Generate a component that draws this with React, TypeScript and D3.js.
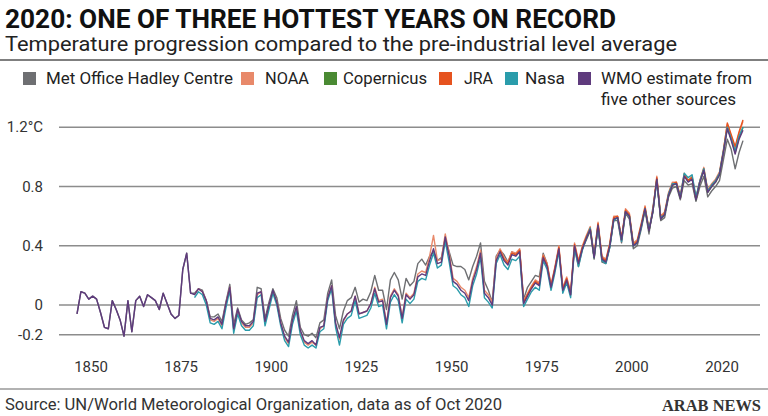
import React from "react";
import * as d3 from "d3";

const W = 768;
const H = 416;

const yTickValues = [1.2, 0.8, 0.4, 0, -0.2];
const yTickLabels = ["1.2°C", "0.8", "0.4", "0", "-0.2"];
const xTickLabels = ["1850", "1875", "1900", "1925", "1950", "1975", "2000", "2020"];

const hadleyStart = 1850;
const hadley = [
  -0.06, 0.09, 0.08, 0.04, 0.06, 0.04, -0.05, -0.15, -0.16, 0.03,
  -0.03, -0.10, -0.21, 0.03, -0.18, 0.03, 0.06, -0.01, 0.07, 0.05,
  0.03, -0.03, 0.08, 0.01, -0.06, -0.09, -0.07, 0.24, 0.35, 0.08,
  0.08, 0.11, 0.10, 0.03, -0.08, -0.08, -0.06, -0.11, 0.02, 0.14,
  -0.13, -0.02, -0.10, -0.13, -0.12, -0.10, 0.12, 0.11, -0.09, 0.02,
  0.11, 0.05, -0.09, -0.17, -0.21, -0.07, 0.03, -0.15, -0.20, -0.21,
  -0.19, -0.22, -0.12, -0.10, 0.08, 0.17, -0.07, -0.16, -0.04, 0.03,
  0.05, 0.12, 0.02, 0.04, 0.03, 0.09, 0.20, 0.10, 0.10, -0.03,
  0.17, 0.22, 0.17, 0.04, 0.18, 0.13, 0.16, 0.28, 0.31, 0.27,
  0.33, 0.36, 0.30, 0.32, 0.45, 0.36, 0.27, 0.26, 0.26, 0.24,
  0.17, 0.26, 0.33, 0.42, 0.16, 0.10, 0.02, 0.33, 0.37, 0.34,
  0.29, 0.36, 0.34, 0.37, 0.04, 0.12, 0.16, 0.20, 0.19, 0.35,
  0.28, 0.12, 0.25, 0.38, 0.10, 0.16, 0.07, 0.39, 0.26, 0.38,
  0.44, 0.50, 0.31, 0.53, 0.29, 0.28, 0.39, 0.57, 0.57, 0.42,
  0.62, 0.58, 0.38, 0.40, 0.51, 0.64, 0.48, 0.66, 0.84, 0.57,
  0.59, 0.73, 0.79, 0.80, 0.71, 0.84, 0.81, 0.82, 0.70, 0.80,
  0.87, 0.73, 0.77, 0.80, 0.84, 0.98, 1.12, 1.05, 0.92, 1.03,
  1.11,
];

const noaaStart = 1880;
const noaa = [
  0.07, 0.11, 0.09, 0.03, -0.10, -0.11, -0.09, -0.14, 0.01, 0.12,
  -0.17, -0.04, -0.12, -0.15, -0.15, -0.12, 0.07, 0.09, -0.12, -0.01,
  0.09, 0.02, -0.12, -0.22, -0.26, -0.11, -0.02, -0.18, -0.25, -0.27,
  -0.25, -0.27, -0.16, -0.14, 0.05, 0.13, -0.13, -0.23, -0.11, -0.06,
  -0.04, 0.06, -0.06, -0.05, -0.04, 0.01, 0.12, 0.03, 0.04, -0.12,
  0.06, 0.11, 0.07, -0.08, 0.08, 0.05, 0.08, 0.21, 0.23, 0.22,
  0.33, 0.47, 0.30, 0.31, 0.48, 0.35, 0.18, 0.16, 0.12, 0.10,
  0.05, 0.18, 0.26, 0.37, 0.10, 0.07, 0.02, 0.32, 0.38, 0.32,
  0.29, 0.36, 0.35, 0.38, 0.03, 0.08, 0.13, 0.17, 0.15, 0.34,
  0.28, 0.14, 0.26, 0.40, 0.12, 0.19, 0.09, 0.42, 0.30, 0.40,
  0.47, 0.53, 0.34, 0.56, 0.33, 0.31, 0.42, 0.60, 0.60, 0.45,
  0.65, 0.62, 0.42, 0.44, 0.55, 0.67, 0.51, 0.64, 0.87, 0.60,
  0.63, 0.76, 0.83, 0.83, 0.74, 0.89, 0.84, 0.87, 0.72, 0.84,
  0.93, 0.78, 0.82, 0.85, 0.90, 1.05, 1.22, 1.14, 1.06, 1.16,
  1.24,
];

const copernicusStart = 1979;
const copernicus = [
  0.38,
  0.45, 0.51, 0.32, 0.54, 0.31, 0.29, 0.40, 0.58, 0.59, 0.44,
  0.63, 0.60, 0.40, 0.42, 0.53, 0.65, 0.50, 0.63, 0.85, 0.58,
  0.61, 0.74, 0.81, 0.82, 0.72, 0.87, 0.84, 0.86, 0.71, 0.83,
  0.91, 0.76, 0.80, 0.83, 0.88, 1.03, 1.20, 1.12, 1.03, 1.13,
  1.20,
];

const jraStart = 1958;
const jra = [
  0.37, 0.31,
  0.28, 0.35, 0.34, 0.37, 0.02, 0.07, 0.12, 0.16, 0.14, 0.33,
  0.27, 0.13, 0.25, 0.39, 0.11, 0.18, 0.08, 0.41, 0.29, 0.39,
  0.46, 0.52, 0.33, 0.55, 0.32, 0.30, 0.41, 0.59, 0.60, 0.45,
  0.64, 0.61, 0.41, 0.43, 0.54, 0.66, 0.51, 0.64, 0.86, 0.59,
  0.62, 0.75, 0.82, 0.83, 0.73, 0.88, 0.84, 0.86, 0.72, 0.84,
  0.92, 0.77, 0.81, 0.84, 0.89, 1.04, 1.23, 1.15, 1.07, 1.17,
  1.25,
];

const nasaStart = 1880;
const nasa = [
  0.05, 0.09, 0.07, 0.00, -0.12, -0.13, -0.11, -0.16, -0.02, 0.10,
  -0.19, -0.06, -0.14, -0.17, -0.17, -0.14, 0.05, 0.07, -0.14, -0.03,
  0.08, 0.00, -0.14, -0.24, -0.28, -0.13, -0.04, -0.20, -0.27, -0.29,
  -0.27, -0.29, -0.18, -0.16, 0.03, 0.11, -0.15, -0.27, -0.13, -0.09,
  -0.07, 0.03, -0.09, -0.08, -0.07, -0.02, 0.08, -0.01, 0.00, -0.16,
  0.02, 0.07, 0.03, -0.12, 0.04, 0.01, 0.04, 0.16, 0.18, 0.17,
  0.27, 0.35, 0.25, 0.27, 0.43, 0.29, 0.13, 0.11, 0.07, 0.05,
  -0.01, 0.13, 0.21, 0.32, 0.05, 0.02, -0.02, 0.28, 0.34, 0.27,
  0.24, 0.31, 0.30, 0.33, -0.01, 0.04, 0.09, 0.12, 0.10, 0.30,
  0.24, 0.10, 0.22, 0.36, 0.08, 0.15, 0.05, 0.38, 0.26, 0.37,
  0.45, 0.52, 0.32, 0.53, 0.30, 0.28, 0.39, 0.57, 0.59, 0.43,
  0.63, 0.60, 0.40, 0.42, 0.52, 0.65, 0.51, 0.63, 0.84, 0.59,
  0.61, 0.75, 0.82, 0.82, 0.73, 0.89, 0.86, 0.88, 0.73, 0.84,
  0.92, 0.77, 0.81, 0.84, 0.89, 1.04, 1.20, 1.12, 1.04, 1.14,
  1.20,
];

const wmoStart = 1850;
const wmo = [
  -0.06, 0.09, 0.08, 0.04, 0.06, 0.04, -0.05, -0.15, -0.16, 0.03,
  -0.03, -0.10, -0.21, 0.03, -0.18, 0.03, 0.06, -0.01, 0.07, 0.05,
  0.03, -0.03, 0.08, 0.01, -0.06, -0.09, -0.07, 0.24, 0.35, 0.08,
  0.07, 0.11, 0.09, 0.03, -0.09, -0.10, -0.08, -0.13, 0.01, 0.12,
  -0.16, -0.03, -0.11, -0.14, -0.14, -0.11, 0.08, 0.09, -0.11, 0.00,
  0.10, 0.02, -0.12, -0.21, -0.25, -0.10, -0.01, -0.17, -0.24, -0.26,
  -0.24, -0.27, -0.15, -0.14, 0.05, 0.13, -0.12, -0.22, -0.10, -0.06,
  -0.04, 0.06, -0.06, -0.05, -0.04, 0.01, 0.11, 0.02, 0.03, -0.13,
  0.05, 0.10, 0.06, -0.09, 0.07, 0.04, 0.07, 0.19, 0.21, 0.20,
  0.30, 0.38, 0.28, 0.29, 0.46, 0.33, 0.16, 0.14, 0.10, 0.08,
  0.03, 0.16, 0.24, 0.35, 0.08, 0.05, 0.00, 0.30, 0.36, 0.30,
  0.27, 0.34, 0.33, 0.36, 0.01, 0.06, 0.11, 0.15, 0.13, 0.32,
  0.26, 0.12, 0.24, 0.38, 0.10, 0.17, 0.07, 0.40, 0.28, 0.38,
  0.45, 0.51, 0.32, 0.54, 0.31, 0.29, 0.40, 0.58, 0.59, 0.44,
  0.63, 0.60, 0.40, 0.42, 0.53, 0.65, 0.50, 0.63, 0.85, 0.58,
  0.61, 0.74, 0.81, 0.82, 0.72, 0.87, 0.83, 0.85, 0.71, 0.83,
  0.91, 0.76, 0.80, 0.83, 0.88, 1.03, 1.19, 1.11, 1.02, 1.12,
  1.18,
];

const seriesNames = [
  "Met Office Hadley Centre",
  "NOAA",
  "Copernicus",
  "JRA",
  "Nasa",
  "WMO estimate from",
];
const seriesColors = ["#6e6f72", "#e8896a", "#4a8a33", "#e6531f", "#2a9cab", "#5f3b7d"];
const seriesData = [hadley, noaa, copernicus, jra, nasa, wmo];
const seriesStarts = [hadleyStart, noaaStart, copernicusStart, jraStart, nasaStart, wmoStart];

const FONT = "Roboto, 'Liberation Sans', sans-serif";

export default function App() {
  const x = d3.scaleLinear().domain([1850, 2020]).range([77, 743]);
  const y = d3.scaleLinear().domain([-0.2, 1.2]).range([334.7, 127.3]);
  const xLabelPos = d3.scalePoint<string>().domain(xTickLabels).range([91, 722]);

  const line = d3
    .line<[number, number]>()
    .x((d) => x(d[0]))
    .y((d) => y(d[1]))
    .curve(d3.curveLinear);

  const legendSwatchX = [23, 241, 324, 439, 505, 578];
  const legendTextX = [46, 265, 343, 464, 525, 601];
  const legendTextW = [187, 44, 84, 29, 40, 151];

  return (
    <svg
      width={W}
      height={H}
      style={{ position: "absolute", left: 0, top: 0, background: "#fff" }}
      fontFamily={FONT}
    >
      <rect x={0} y={0} width={W} height={H} fill="#fff" />
      <text x={5} y={28} fontSize={25} fontWeight={700} fill="#111" textLength={611} lengthAdjust="spacingAndGlyphs">
        2020: ONE OF THREE HOTTEST YEARS ON RECORD
      </text>
      <text x={5} y={51} fontSize={20} fontWeight={400} fill="#222" textLength={672} lengthAdjust="spacingAndGlyphs">
        Temperature progression compared to the pre-industrial level average
      </text>
      <line x1={0} x2={W} y1={60} y2={60} stroke="#555" strokeWidth={1.5} />

      {seriesNames.map((name, i) => (
        <g key={name}>
          <rect x={legendSwatchX[i]} y={72} width={13} height={13} fill={seriesColors[i]} />
          <text x={legendTextX[i]} y={84} fontSize={16} fill="#222" textLength={legendTextW[i]} lengthAdjust="spacingAndGlyphs">
            {name}
          </text>
        </g>
      ))}
      <text x={601} y={105} fontSize={16} fill="#222" textLength={135} lengthAdjust="spacingAndGlyphs">
        five other sources
      </text>

      {yTickValues.map((v, i) => (
        <g key={v}>
          <line x1={59} x2={760} y1={y(v)} y2={y(v)} stroke="#8c8c8c" strokeWidth={1.5} />
          <text x={43} y={y(v) + 5} fontSize={15} textAnchor="end" fill="#333">
            {yTickLabels[i]}
          </text>
        </g>
      ))}

      {seriesData.map((vals, i) => {
        const pts: [number, number][] = vals.map((v, k) => [seriesStarts[i] + k, v]);
        return (
          <path
            key={seriesNames[i]}
            d={line(pts) || ""}
            fill="none"
            stroke={seriesColors[i]}
            strokeWidth={1.4}
            strokeLinejoin="round"
          />
        );
      })}

      {xTickLabels.map((l) => (
        <text key={l} x={xLabelPos(l)} y={372} fontSize={15} textAnchor="middle" fill="#333">
          {l}
        </text>
      ))}

      <line x1={0} x2={W} y1={389} y2={389} stroke="#999" strokeWidth={1.5} />
      <text x={5} y={410} fontSize={16} fill="#333" textLength={497} lengthAdjust="spacingAndGlyphs">
        Source: UN/World Meteorological Organization, data as of Oct 2020
      </text>
      <text
        x={662}
        y={411}
        fontSize={17}
        fontWeight={700}
        fontFamily="'Liberation Serif', 'DejaVu Serif', serif"
        fill="#333"
        textLength={99}
        lengthAdjust="spacingAndGlyphs"
      >
        ARAB NEWS
      </text>
    </svg>
  );
}
